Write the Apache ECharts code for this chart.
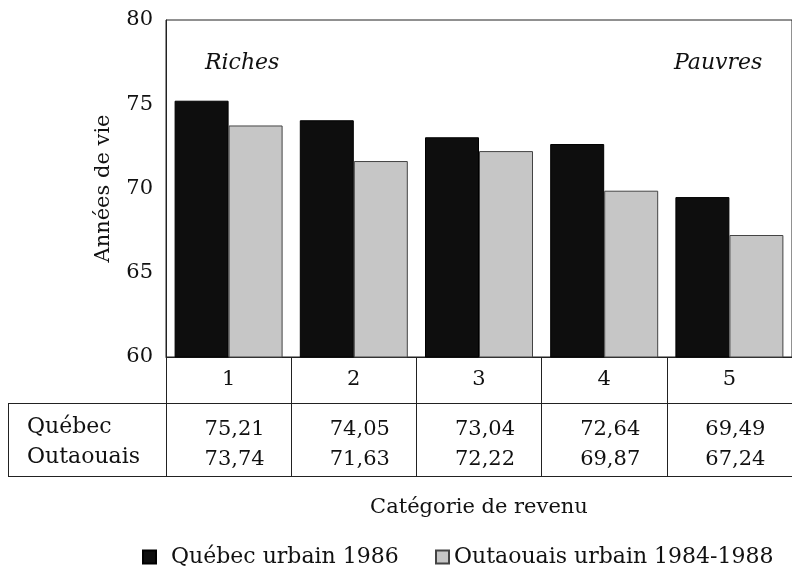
<!DOCTYPE html>
<html>
<head>
<meta charset="utf-8">
<script src="https://cdn.jsdelivr.net/npm/echarts@6/dist/echarts.min.js"></script>
<style>
  html, body { margin: 0; padding: 0; background: #fff; }
  #chart { width: 792px; height: 569px; }
</style>
</head>
<body>
<div id="chart"></div>
<script>
// data
const categories = ['1', '2', '3', '4', '5']
const quebec = [75.21, 74.05, 73.04, 72.64, 69.49]
const outaouais = [73.74, 71.63, 72.22, 69.87, 67.24]
const seriesNames = ['Québec urbain 1986', 'Outaouais urbain 1984-1988']
const rowNames = ['Québec', 'Outaouais']
const yTicks = [60, 65, 70, 75, 80]

const FONT = 'DejaVu Serif'
const INK = '#222'

const fmt = v => v.toFixed(2).replace('.', ',')

const chart = echarts.init(document.getElementById('chart'))

const legendText = { fontFamily: FONT, fontSize: 22, color: '#111' }

const option = {
  animation: false,
  textStyle: { fontFamily: FONT, color: '#111' },
  grid: {
    left: 166,
    top: 20,
    width: 632,
    height: 337,
    show: true,
    borderColor: INK,
    borderWidth: 1,
    backgroundColor: 'transparent'
  },
  legend: [
    {
      left: 137,
      top: 541,
      itemWidth: 13,
      itemHeight: 13,
      icon: 'rect',
      textStyle: { ...legendText, padding: [0, 0, 0, 10] },
      data: [seriesNames[0]]
    },
    {
      left: 430,
      top: 541,
      itemWidth: 13,
      itemHeight: 13,
      icon: 'rect',
      textStyle: legendText,
      data: [seriesNames[1]]
    }
  ],
  xAxis: {
    type: 'category',
    data: categories,
    name: 'Catégorie de revenu',
    nameLocation: 'middle',
    nameGap: 140,
    nameTextStyle: { fontFamily: FONT, fontSize: 21, color: '#111' },
    axisLine: { lineStyle: { color: INK, width: 1 } },
    axisTick: { show: true, length: 119, lineStyle: { color: INK, width: 1 } },
    axisLabel: {
      margin: 0,
      interval: 0,
      verticalAlign: 'top',
      formatter: (value, i) =>
        `{c|${value}}\n{s| }\n{v|${fmt(quebec[i])}}\n{v|${fmt(outaouais[i])}}`,
      rich: {
        c: { fontFamily: FONT, fontSize: 21, lineHeight: 46, color: '#111' },
        s: { fontSize: 1, lineHeight: 12 },
        v: { fontFamily: FONT, fontSize: 21, lineHeight: 30, color: '#111', padding: [0, 0, 0, 12] }
      }
    }
  },
  yAxis: {
    type: 'value',
    min: yTicks[0],
    max: yTicks[yTicks.length - 1],
    interval: 5,
    name: 'Années de vie',
    nameLocation: 'middle',
    nameGap: 52,
    nameTextStyle: { fontFamily: FONT, fontSize: 21, color: '#111' },
    axisLine: { show: true, lineStyle: { color: INK, width: 1 } },
    axisTick: { show: false },
    splitLine: { show: false },
    axisLabel: { margin: 13, fontFamily: FONT, fontSize: 21, color: '#111' }
  },
  series: [
    {
      name: seriesNames[0],
      type: 'bar',
      data: quebec,
      barWidth: 54,
      barGap: '0%',
      itemStyle: { color: '#0e0e0e', borderColor: '#000', borderWidth: 1 }
    },
    {
      name: seriesNames[1],
      type: 'bar',
      data: outaouais,
      barWidth: 54,
      itemStyle: { color: '#c6c6c6', borderColor: '#444', borderWidth: 1 }
    }
  ],
  graphic: [
    // table frame below the category row
    { type: 'line', shape: { x1: 8, y1: 403.5, x2: 792, y2: 403.5 }, style: { stroke: INK, lineWidth: 1 } },
    { type: 'line', shape: { x1: 8, y1: 476.5, x2: 792, y2: 476.5 }, style: { stroke: INK, lineWidth: 1 } },
    { type: 'line', shape: { x1: 8.5, y1: 403, x2: 8.5, y2: 477 }, style: { stroke: INK, lineWidth: 1 } },
    { type: 'text', left: 27, top: 416, style: { text: rowNames[0], font: `22px "${FONT}"`, fill: '#111' } },
    { type: 'text', left: 27, top: 446, style: { text: rowNames[1], font: `22px "${FONT}"`, fill: '#111' } },
    { type: 'text', left: 205, top: 52, style: { text: 'Riches', font: `italic 22px "${FONT}"`, fill: '#111' } },
    { type: 'text', left: 674, top: 52, style: { text: 'Pauvres', font: `italic 22px "${FONT}"`, fill: '#111' } }
  ]
}

chart.setOption(option)
</script>
</body>
</html>
